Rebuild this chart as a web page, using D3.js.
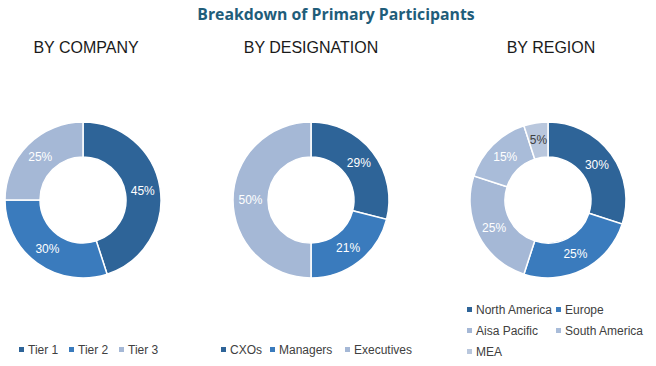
<!DOCTYPE html>
<html>
<head>
<meta charset="utf-8">
<script src="https://cdn.jsdelivr.net/npm/d3@7"></script>
<style>
  body { margin: 0; background: #fff; }
  svg { display: block; }
</style>
</head>
<body>
<div id="c"></div>
<script>
// data
var company_labels = ['Tier 1', 'Tier 2', 'Tier 3'];
var company_values = [45, 30, 25];

var designation_labels = ['CXOs', 'Managers', 'Executives'];
var designation_values = [29, 21, 50];

var region_labels = ['North America', 'Europe', 'Aisa Pacific', 'South America', 'MEA'];
var region_values = [30, 25, 25, 15, 5];

var width = 656;
var height = 366;

var colors3 = ['#2e6498', '#3a7bbd', '#a5b8d6'];
var colors5 = ['#2e6498', '#3a7bbd', '#a5b8d6', '#a9bcd9', '#b9c7dd'];

var svg = d3.select('#c').append('svg')
	.attr('width', width)
	.attr('height', height);

svg.append('text')
	.attr('x', 336)
	.attr('y', 20)
	.attr('text-anchor', 'middle')
	.attr('font-family', 'Open Sans, sans-serif')
	.attr('font-weight', 'bold')
	.attr('font-size', 15.8)
	.attr('fill', '#1f5d7a')
	.text('Breakdown of Primary Participants');

var outer_r = 78, inner_r = 43;
var cy = 200;

var pie = d3.pie().sort(null).value(function(d) { return d; });
var arc = d3.arc().innerRadius(inner_r).outerRadius(outer_r);
var label_arc = d3.arc().innerRadius((inner_r + outer_r) / 2).outerRadius((inner_r + outer_r) / 2);

function draw_donut(cx, title, title_x, values, colors, label_colors) {
	svg.append('text')
		.attr('x', title_x)
		.attr('y', 53)
		.attr('text-anchor', 'middle')
		.attr('font-family', 'Liberation Sans, Arial, sans-serif')
		.attr('font-size', 16)
		.attr('fill', '#1a1a1a')
		.text(title);

	var g = svg.append('g')
		.attr('transform', 'translate(' + cx + ',' + cy + ')');

	var arcs = pie(values);

	g.selectAll('path')
		.data(arcs)
		.enter()
		.append('path')
		.attr('d', arc)
		.attr('fill', function(d, i) { return colors[i]; })
		.attr('stroke', '#fff')
		.attr('stroke-width', 1.5);

	g.selectAll('text')
		.data(arcs)
		.enter()
		.append('text')
		.attr('transform', function(d) { return 'translate(' + label_arc.centroid(d) + ')'; })
		.attr('dy', '0.35em')
		.attr('text-anchor', 'middle')
		.attr('font-family', 'Liberation Sans, Arial, sans-serif')
		.attr('font-size', 12)
		.attr('fill', function(d, i) { return label_colors[i]; })
		.text(function(d) { return d.data + '%'; });
}

draw_donut(83, 'BY COMPANY', 86, company_values, colors3, ['#fff', '#fff', '#fff']);
draw_donut(311, 'BY DESIGNATION', 311, designation_values, colors3, ['#fff', '#fff', '#fff']);
draw_donut(548, 'BY REGION', 551, region_values, colors5, ['#fff', '#fff', '#fff', '#fff', '#404040']);

// legends
function legend_item(x, y, color, label) {
	svg.append('rect')
		.attr('x', x)
		.attr('y', y - 7)
		.attr('width', 5)
		.attr('height', 5)
		.attr('fill', color);
	svg.append('text')
		.attr('x', x + 9)
		.attr('y', y)
		.attr('font-family', 'Liberation Sans, Arial, sans-serif')
		.attr('font-size', 12)
		.attr('fill', '#404040')
		.text(label);
}

var company_lx = [19, 69, 119];
company_labels.forEach(function(l, i) { legend_item(company_lx[i], 354, colors3[i], l); });

var designation_lx = [221, 270, 345];
designation_labels.forEach(function(l, i) { legend_item(designation_lx[i], 354, colors3[i], l); });

var region_lx = [467, 556, 467, 556, 467];
var region_ly = [314, 314, 335, 335, 356];
region_labels.forEach(function(l, i) { legend_item(region_lx[i], region_ly[i], colors5[i], l); });
</script>
</body>
</html>
